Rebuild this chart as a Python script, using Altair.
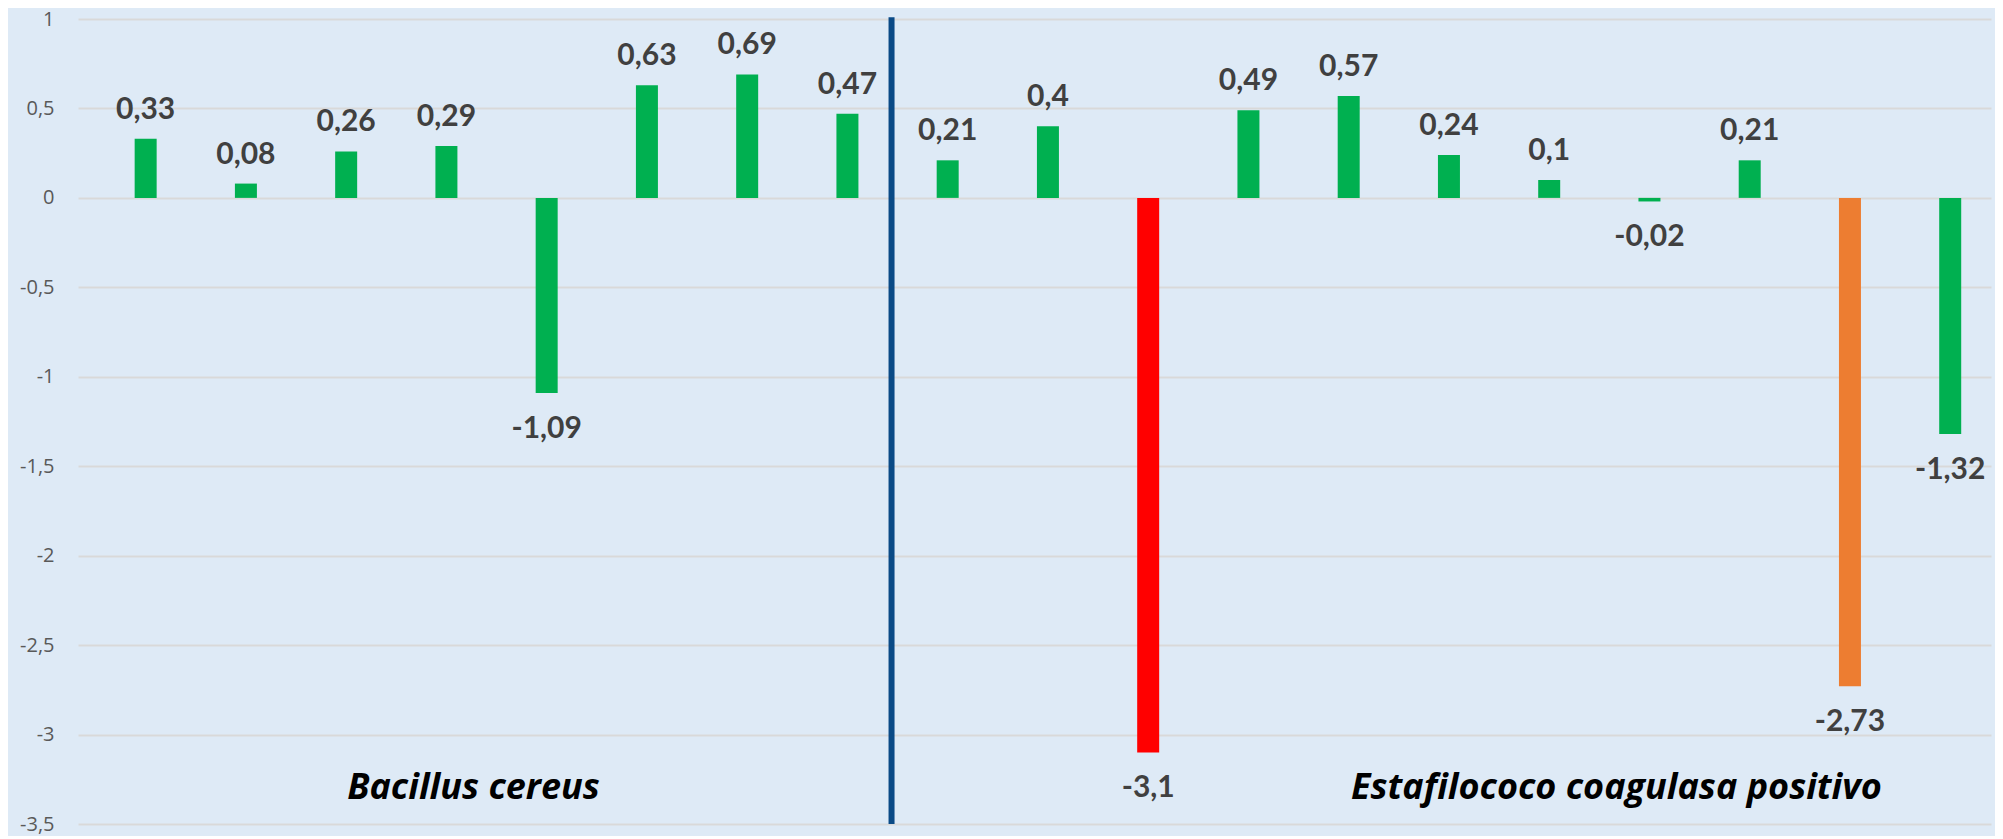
import altair as alt
import pandas as pd

# Values
valores = [0.33, 0.08, 0.26, 0.29, -1.09, 0.63, 0.69, 0.47,
           0.21, 0.4, -3.1, 0.49, 0.57, 0.24, 0.1, -0.02, 0.21, -2.73, -1.32]
estado = ["normal", "normal", "normal", "normal", "normal", "normal", "normal", "normal",
          "normal", "normal", "critico", "normal", "normal", "normal", "normal", "normal",
          "normal", "alerta", "normal"]
y_ticks = [1, 0.5, 0, -0.5, -1, -1.5, -2, -2.5, -3, -3.5]

grupos = ["Bacillus cereus", "Estafilococo coagulasa positivo"]
grupo_pos = [3.27, 14.67]
grupo_val = [-3.36, -3.36]
separador_pos = [7.44]

df = pd.DataFrame({
    "pos": list(range(len(valores))),
    "valor": valores,
    "estado": estado,
    "etiqueta": [str(v).replace(".", ",") for v in valores],
})
df_grupos = pd.DataFrame({"grupo": grupos, "pos": grupo_pos, "valor": grupo_val})
df_sep = pd.DataFrame({"pos": separador_pos})

x_scale = alt.Scale(domain=[-0.625, 18.357], nice=False, zero=False)
y_scale = alt.Scale(domain=[-3.5, 1], nice=False)

x = alt.X("pos:Q", scale=x_scale, axis=None)
y = alt.Y("valor:Q", scale=y_scale, axis=alt.Axis(
    values=y_ticks, labelExpr="replace(toString(datum.value), '.', ',')",
    grid=True, gridColor="#D9D9D9", gridWidth=2, domain=False, ticks=False,
    labelFont="Open Sans", labelFontSize=20, labelColor="#595959",
    labelPadding=24, title=None))

base = alt.Chart(df)

bars = base.mark_bar(size=22).encode(
    x=x, y=y, y2=alt.datum(0),
    color=alt.Color("estado:N", scale=alt.Scale(
        domain=["normal", "critico", "alerta"],
        range=["#00B050", "#FF0000", "#ED7D31"]), legend=None),
)

label_style = dict(font="Lato", fontWeight="bold", fontSize=30, color="#404040",
                   align="center", baseline="alphabetic")
pos_labels = base.transform_filter("datum.valor >= 0").mark_text(dy=-20, **label_style).encode(
    x=x, y=y, text="etiqueta:N")
neg_labels = base.transform_filter("datum.valor < 0").mark_text(dy=45, **label_style).encode(
    x=x, y=y, text="etiqueta:N")

sep = alt.Chart(df_sep).mark_rule(color="#0A4A86", strokeWidth=6).encode(
    x=x, y=alt.datum(1.01), y2=alt.datum(-3.5))

grp = alt.Chart(df_grupos).mark_text(
    font="Open Sans", fontStyle="italic", fontWeight="bold", fontSize=36, color="#000000",
    align="center", baseline="alphabetic").encode(
    x=x, y=alt.Y("valor:Q", scale=y_scale), text="grupo:N")

chart = alt.layer(bars, pos_labels, neg_labels, sep, grp).properties(
    width=1913, height=805,
    autosize=alt.AutoSizeParams(type="none"),
    padding={"left": 70, "top": 11, "right": 4, "bottom": 12},
    background="#DEEAF6",
).configure_view(stroke=None)

chart.save("out.html", embed_options={"renderer": "svg", "actions": False})
